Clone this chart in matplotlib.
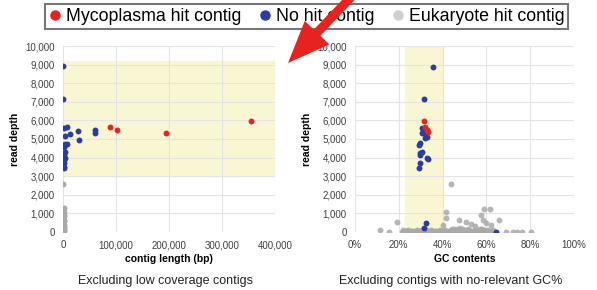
import matplotlib
matplotlib.use("Agg")
import matplotlib.pyplot as plt
from matplotlib.lines import Line2D
from matplotlib.patches import FancyArrow
from matplotlib.transforms import IdentityTransform
from matplotlib.ticker import FuncFormatter

plt.rcParams['font.family'] = ['Liberation Sans', 'DejaVu Sans']

# ---------------- data ----------------
# Left panel: contig length (bp) vs read depth
myco_len = [88700, 101300, 193800, 354000]
myco_depth_l = [5660, 5480, 5300, 5970]

nohit_len = [500, 500, 1000, 7500, 3000, 12500, 28000, 30000, 61000, 61000,
             3000, 7000, 2000, 2500, 3000, 2500, 3500, 2000, 2500, 2000, 1500]
nohit_depth_l = [8900, 7130, 5600, 5650, 5180, 5280, 5430, 4950, 5480, 5340,
                 4730, 4730, 4680, 4550, 4320, 4140, 3960, 3870, 3690, 3510, 3420]

euk_len = [800, 1200, 900, 1500, 700, 1100, 1300, 600, 1000, 1400, 900,
           800, 1200, 700, 1000, 1500, 600, 1100, 900, 1300, 800]
euk_depth_l = [2600, 1300, 1200, 1100, 1000, 900, 850, 750, 650, 600, 500,
               450, 400, 300, 250, 200, 150, 100, 60, 30, 10]

# Right panel: GC contents (%) vs read depth
myco_gc = [31.5, 33.3, 33.0, 32.0]
myco_depth_r = [5970, 5390, 5480, 5660]

nohit_gc = [35.5, 31.5, 30.6, 32.9, 30.6, 31.8, 29.5, 29.3, 30.5, 29.5, 29.7,
            32.9, 33.5, 29.7, 29.0, 32.4, 31.7, 64.2, 31.0, 32.5, 33.0]
nohit_depth_r = [8890, 7130, 5610, 5480, 5300, 5030, 4770, 4680, 4320, 4230, 4140,
                 3960, 3920, 3690, 3420, 500, 230, 0, 5550, 5200, 5130]

euk_gc = [11.2, 15.3, 19.0, 43.8, 41.5, 41.4, 40.2, 47.3, 50.5, 53.0, 57.7,
          59.0, 61.6, 58.5, 60.0, 65.6, 48.0, 55.0, 62.0, 45.0, 52.0, 57.0,
          68.8, 72.0, 74.0, 76.4, 80.5,
          21.5, 22.3, 23.0, 23.8, 24.4, 25.1, 25.9, 26.5, 27.2, 27.9, 28.6, 29.3,
          30.1, 30.8, 31.4, 32.2, 32.9, 33.6, 34.3, 35.1, 35.8, 36.4, 37.2, 37.9,
          38.6, 39.3, 40.1, 40.8, 41.6, 42.3, 43.1, 43.8, 44.6, 45.3, 46.1, 46.8,
          47.5, 48.3, 49.0, 49.8, 50.5, 51.3, 52.0, 52.8, 53.6, 54.3, 55.1, 55.8,
          56.6, 57.3, 58.1, 58.8, 59.6, 60.3, 61.1, 61.8, 62.6, 63.4, 64.1,
          22.0, 24.0, 26.1, 28.2, 30.4, 32.6, 34.7, 36.9, 39.0, 41.2, 44.1,
          47.0, 49.4, 51.8, 54.7, 57.9, 60.7, 63.0]
euk_depth_r = [110, 10, 520, 2600, 1090, 730, 370, 640, 540, 440, 910,
               1240, 1240, 640, 460, 640, 200, 300, 350, 150, 120, 180,
               20, 20, 20, 20, 20,
               20, 40, 10, 60, 30, 0, 50, 20, 70, 10, 40, 30,
               60, 0, 20, 50, 10, 40, 70, 30, 0, 60, 20, 40,
               10, 50, 30, 80, 20, 0, 60, 100, 40, 10, 90, 30,
               50, 120, 20, 70, 0, 40, 60, 10, 80, 30, 50, 20,
               90, 40, 0, 110, 60, 30, 70, 20, 50, 10, 0,
               90, 110, 80, 100, 120, 90, 100, 80, 110, 130, 150,
               160, 140, 170, 120, 150, 130, 90]

labels = ["Mycoplasma hit contig", "No hit contig", "Eukaryote hit contig"]
left_xticks = [0, 100000, 200000, 300000, 400000]
right_xticks = [0, 20, 40, 60, 80, 100]
yticks = [0, 1000, 2000, 3000, 4000, 5000, 6000, 7000, 8000, 9000, 10000]

RED = "#E8231F"
BLUE = "#2B3BA6"
GRAY = "#A9A9A9"
YELLOW = "#F9F7D3"
TICKC = "#404040"
GRIDC = "#E4E4E4"

fig = plt.figure(figsize=(5.97, 2.90), dpi=100)
axL = fig.add_axes([63 / 597, 58 / 290, 212 / 597, 186 / 290])
axR = fig.add_axes([355 / 597, 58 / 290, 219 / 597, 186 / 290])

comma = FuncFormatter(lambda v, p: f"{int(v):,}")
pct = FuncFormatter(lambda v, p: f"{int(v)}%")

for ax in (axL, axR):
    ax.set_ylim(0, 10000)
    ax.set_yticks(yticks)
    ax.yaxis.set_major_formatter(comma)
    ax.grid(True, color=GRIDC, lw=0.8)
    ax.set_axisbelow(True)
    for s in ax.spines.values():
        s.set_visible(False)
    ax.tick_params(length=0, labelsize=7, colors=TICKC, pad=6)
    ax.set_ylabel("read depth", fontsize=7.5, fontweight='bold', labelpad=4)

# Left panel
axL.set_xlim(0, 400000)
axL.set_xticks(left_xticks)
axL.xaxis.set_major_formatter(comma)
axL.axhspan(3000, 9200, color=YELLOW, zorder=0)
axL.scatter(euk_len, euk_depth_l, s=18, color=GRAY, zorder=2, lw=0)
axL.scatter(nohit_len, nohit_depth_l, s=18, color=BLUE, zorder=3, lw=0)
axL.scatter(myco_len, myco_depth_l, s=18, color=RED, zorder=4, lw=0)
axL.set_xlabel("contig length (bp)", fontsize=7.5, fontweight='bold', labelpad=3)

# Right panel
axR.set_xlim(0, 100)
axR.set_xticks(right_xticks)
axR.xaxis.set_major_formatter(pct)
axR.axvspan(22.7, 40, color=YELLOW, zorder=0)
axR.scatter(euk_gc, euk_depth_r, s=18, color=GRAY, zorder=2, lw=0, alpha=0.85)
axR.scatter(nohit_gc, nohit_depth_r, s=18, color=BLUE, zorder=3, lw=0)
axR.scatter(myco_gc, myco_depth_r, s=18, color=RED, zorder=4, lw=0)
axR.set_xlabel("GC contents", fontsize=7.5, fontweight='bold', labelpad=3)

# captions
fig.text(166 / 597, 1 - 281 / 290, "Excluding low coverage contigs",
         ha='center', va='center', fontsize=9, color="#222222")
fig.text(451 / 597, 1 - 281 / 290, "Excluding contigs with no-relevant GC%",
         ha='center', va='center', fontsize=9, color="#222222")

# legend
handles = [Line2D([], [], marker='o', linestyle='none', markersize=6.5,
                  markerfacecolor=c, markeredgecolor=c)
           for c in (RED, BLUE, "#CFCFCF")]
leg = fig.legend(handles, labels, loc='upper center', bbox_to_anchor=(306.5 / 597, 1 - 4 / 290),
                 ncol=3, frameon=True, fancybox=False, fontsize=12.8,
                 handlelength=0.7, handletextpad=0.25, columnspacing=1.0,
                 borderpad=0.22, borderaxespad=0)
leg.get_frame().set_edgecolor("#555555")
leg.get_frame().set_linewidth(1.5)

# red arrow annotation
arrow = FancyArrow(356, 298, -68, -71, width=9, head_width=34, head_length=42,
                   length_includes_head=True, color=RED, lw=0,
                   transform=IdentityTransform(), zorder=10)
fig.add_artist(arrow)

fig.savefig("out.png", dpi=100)
